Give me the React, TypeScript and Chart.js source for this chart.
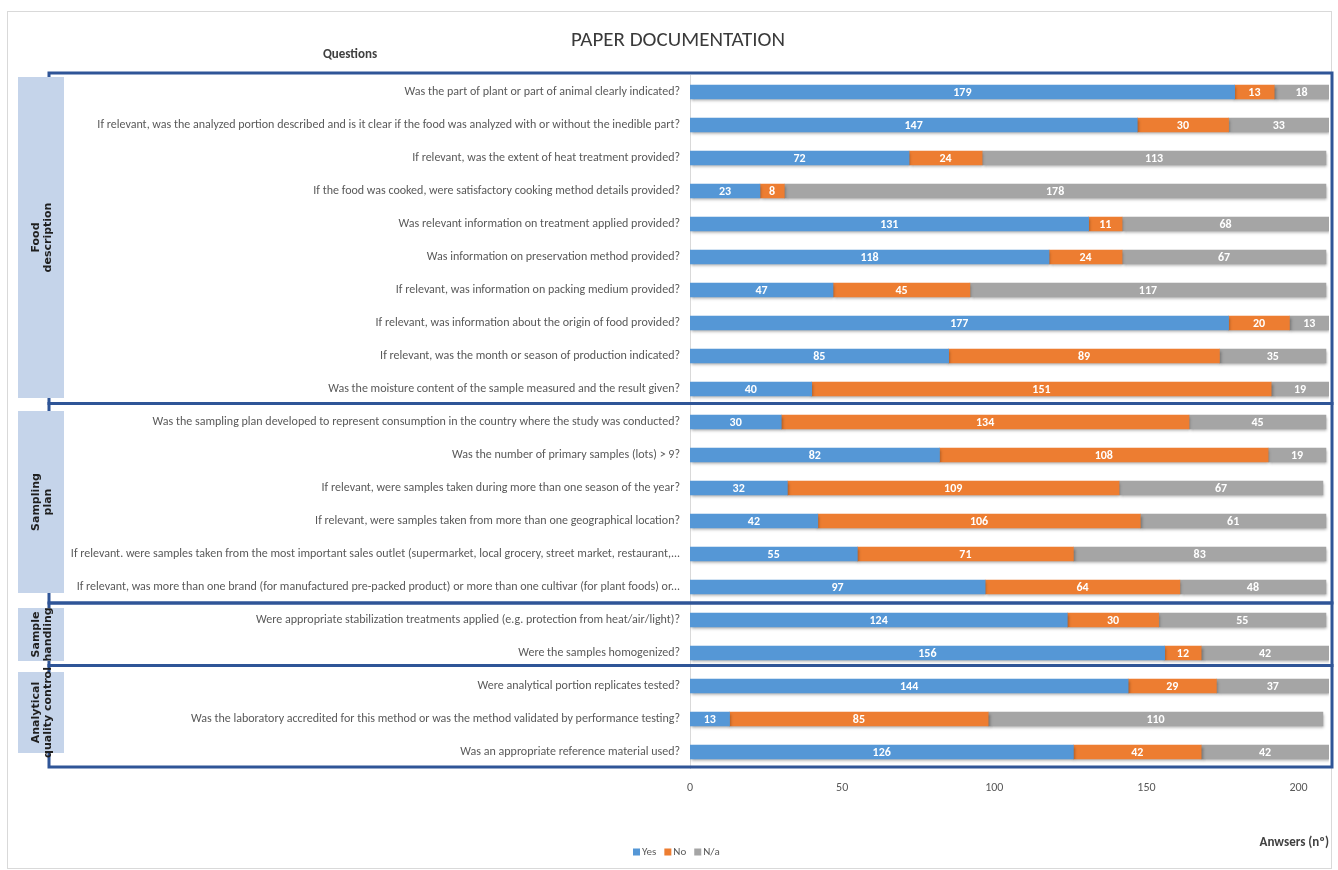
import React, { useEffect, useRef } from "react";
import { Chart, registerables } from "chart.js";

Chart.register(...registerables);

const questions: string[] = [
  "Was the part of plant or part of animal clearly indicated?",
  "If relevant, was the analyzed portion described and is it clear if the food was analyzed with or without the inedible part?",
  "If relevant, was the extent of heat treatment provided?",
  "If the food was cooked, were satisfactory cooking method details provided?",
  "Was relevant information on treatment applied provided?",
  "Was information on preservation method provided?",
  "If relevant, was information on packing medium provided?",
  "If relevant, was information about the origin of food provided?",
  "If relevant, was the month or season of production indicated?",
  "Was the moisture content of the sample measured and the result given?",
  "Was the sampling plan developed to represent consumption in the country where the study was conducted?",
  "Was the number of primary samples (lots) > 9?",
  "If relevant, were samples taken during more than one season of the year?",
  "If relevant, were samples taken from more than one geographical location?",
  "If relevant. were samples taken from the most important sales outlet (supermarket, local grocery, street market, restaurant,...",
  "If relevant, was more than one brand (for manufactured pre-packed product) or more than one cultivar (for plant foods) or...",
  "Were appropriate stabilization treatments applied (e.g. protection from heat/air/light)?",
  "Were the samples homogenized?",
  "Were analytical portion replicates tested?",
  "Was the laboratory accredited for this method or was the method validated by performance testing?",
  "Was an appropriate reference material used?",
];

const yesValues: number[] = [179, 147, 72, 23, 131, 118, 47, 177, 85, 40, 30, 82, 32, 42, 55, 97, 124, 156, 144, 13, 126];
const noValues: number[] = [13, 30, 24, 8, 11, 24, 45, 20, 89, 151, 134, 108, 109, 106, 71, 64, 30, 12, 29, 85, 42];
const naValues: number[] = [18, 33, 113, 178, 68, 67, 117, 13, 35, 19, 45, 19, 67, 61, 83, 48, 55, 42, 37, 110, 42];

const seriesNames: string[] = ["Yes", "No", "N/a"];
const seriesColors: string[] = ["#5597D6", "#ED7D31", "#A5A5A5"];

const groupNames: string[][] = [
  ["Food", "description"],
  ["Sampling", "plan"],
  ["Sample", "handling"],
  ["Analytical", "quality control"],
];
const groupFirstRow: number[] = [0, 10, 16, 18];
const groupLastRow: number[] = [9, 15, 17, 20];

const chartTitle = "PAPER DOCUMENTATION";
const yAxisTitle = "Questions";
const xAxisTitle = "Anwsers (nº)";

// layout tweaks (pixels) for the decorative group frames and label boxes
const frameSepShift: number[] = [-2, -0.5, -4];
const boxTopShift: number[] = [-15, -11, -12, -14];
const boxBottomShift: number[] = [9, 6, 8, 1];

const F = "Carlito, 'Liberation Sans', sans-serif";
const GF = "'DejaVu Sans', sans-serif";

const decorPlugin = {
  id: "decor",
  beforeDraw(chart: any) {
    const ctx = chart.ctx;
    ctx.save();
    ctx.fillStyle = "#ffffff";
    ctx.fillRect(0, 0, chart.width, chart.height);
    ctx.strokeStyle = "#D9D9D9";
    ctx.lineWidth = 1;
    ctx.strokeRect(7.5, 11.5, 1324, 857);
    ctx.fillStyle = "#3A3A3A";
    ctx.textAlign = "center";
    ctx.textBaseline = "middle";
    ctx.font = `21px ${F}`;
    ctx.fillText(chartTitle, 678, 41);
    ctx.fillStyle = "#404040";
    ctx.font = `bold 13px ${F}`;
    ctx.fillText(yAxisTitle, 350, 55);
    ctx.restore();
  },
  beforeDatasetsDraw(chart: any) {
    const ctx = chart.ctx;
    ctx.save();
    ctx.shadowColor = "rgba(0,0,0,0.35)";
    ctx.shadowBlur = 3;
    ctx.shadowOffsetX = 1;
    ctx.shadowOffsetY = 2;
  },
  afterDatasetsDraw(chart: any) {
    const ctx = chart.ctx;
    ctx.restore();
    ctx.save();
    ctx.fillStyle = "#ffffff";
    ctx.textAlign = "center";
    ctx.textBaseline = "middle";
    ctx.font = `bold 12px ${F}`;
    chart.data.datasets.forEach((ds: any, di: number) => {
      const meta = chart.getDatasetMeta(di);
      meta.data.forEach((bar: any, i: number) => {
        const v = ds.data[i];
        if (!v) return;
        const x = (bar.x + bar.base) / 2;
        ctx.fillText(String(v), x, bar.y + 0.5);
      });
    });
    ctx.restore();
  },
  afterDraw(chart: any) {
    const ctx = chart.ctx;
    const ys = chart.scales.y;
    const px = (v: number) => ys.getPixelForValue(v);
    ctx.save();
    ctx.strokeStyle = "#2F5597";
    ctx.lineWidth = 3;
    const n = groupFirstRow.length;
    groupFirstRow.forEach((a, g) => {
      const b = groupLastRow[g];
      const top = g === 0 ? px(a) - 19 : (px(a - 1) + px(a)) / 2 + frameSepShift[g - 1];
      const bottom = g === n - 1 ? px(b) + 15 : (px(b) + px(b + 1)) / 2 + frameSepShift[g];
      ctx.strokeRect(49, top, 1332 - 49, bottom - top);
    });
    groupFirstRow.forEach((a, g) => {
      const b = groupLastRow[g];
      const top = px(a) + boxTopShift[g];
      const bottom = px(b) + boxBottomShift[g];
      ctx.fillStyle = "#C5D4EA";
      ctx.fillRect(18, top, 46, bottom - top);
      const cy = (top + bottom) / 2;
      ctx.save();
      ctx.translate(42, cy);
      ctx.rotate(-Math.PI / 2);
      ctx.fillStyle = "#1F1F1F";
      ctx.font = `bold 11px ${GF}`;
      ctx.textAlign = "center";
      ctx.textBaseline = "middle";
      const lines = groupNames[g];
      lines.forEach((t, li) => {
        ctx.fillText(t, 0, (li - (lines.length - 1) / 2) * 12.5);
      });
      ctx.restore();
    });
    // legend
    ctx.font = `11px ${F}`;
    ctx.textBaseline = "middle";
    ctx.textAlign = "left";
    let lx = 633;
    const ly = 852;
    seriesNames.forEach((name, i) => {
      ctx.fillStyle = seriesColors[i];
      ctx.fillRect(lx, ly - 3.5, 7, 7);
      ctx.fillStyle = "#595959";
      ctx.fillText(name, lx + 9, ly);
      lx += 9 + ctx.measureText(name).width + 8;
    });
    ctx.restore();
  },
};

export default function App() {
  const ref = useRef<HTMLCanvasElement>(null);
  useEffect(() => {
    const chart = new Chart(ref.current as HTMLCanvasElement, {
      type: "bar",
      data: {
        labels: questions,
        datasets: [yesValues, noValues, naValues].map((vals, i) => ({
          label: seriesNames[i],
          data: vals,
          backgroundColor: seriesColors[i],
          borderWidth: 0,
          barThickness: 14,
        })),
      },
      options: {
        indexAxis: "y",
        responsive: false,
        animation: false,
        layout: { padding: { left: 0, right: 9, top: 75.5, bottom: 0 } },
        plugins: {
          legend: { display: false },
          title: { display: false },
          tooltip: { enabled: false },
        },
        scales: {
          x: {
            stacked: true,
            min: 0,
            max: 210,
            afterFit: (s: any) => {
              s.height = 101.5;
            },
            grid: { display: false, drawTicks: false },
            border: { display: false },
            ticks: {
              stepSize: 50,
              includeBounds: false,
              padding: 12,
              color: "#595959",
              font: { family: F, size: 12 },
            },
            title: {
              display: true,
              text: xAxisTitle,
              align: "end",
              color: "#404040",
              font: { family: F, size: 13, weight: "bold" },
              padding: { top: 0, bottom: 19 },
            },
          },
          y: {
            stacked: true,
            afterFit: (s: any) => {
              s.width = 690;
            },
            grid: { display: false, drawTicks: false },
            border: { display: true, color: "#D9D9D9", width: 1 },
            ticks: {
              autoSkip: false,
              padding: 10,
              color: "#595959",
              font: { family: F, size: 12 },
            },
          },
        },
      },
      plugins: [decorPlugin],
    } as any);
    return () => chart.destroy();
  }, []);
  return (
    <div style={{ position: "absolute", left: 0, top: 0, width: 1338, height: 870, background: "#fff" }}>
      <canvas ref={ref} width={1338} height={870} style={{ display: "block", width: 1338, height: 870 }} />
    </div>
  );
}
